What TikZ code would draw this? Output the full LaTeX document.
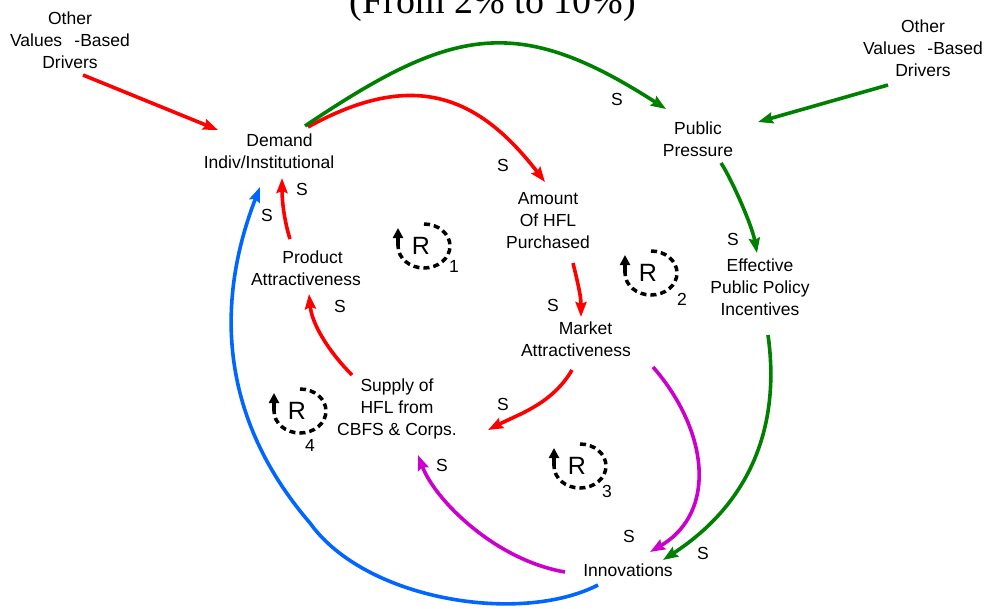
\documentclass[tikz,border=0pt]{standalone}
\usepackage{fontspec}
\setmainfont{Liberation Sans}
\newfontfamily\titlefont{Liberation Serif}
\usetikzlibrary{arrows.meta,calc}
\definecolor{cred}{RGB}{255,0,0}
\definecolor{cgreen}{RGB}{0,128,0}
\definecolor{cmag}{RGB}{204,0,204}
\definecolor{cblue}{RGB}{0,102,255}
\begin{document}
\begin{tikzpicture}[x=1pt,y=-1pt,
  lbl/.style={font=\fontsize{17.5}{22}\selectfont, align=center, inner sep=0pt},
  sl/.style={font=\fontsize{17.5}{22}\selectfont, inner sep=0pt},
  rl/.style={font=\fontsize{25}{25}\selectfont, inner sep=0pt},
  lnk/.style={line width=3.6pt, -{Stealth[length=15pt,width=11pt,inset=2pt]}},
  rlink/.style={lnk, draw=cred},
  glink/.style={lnk, draw=cgreen},
  mlink/.style={lnk, draw=cmag},
  blink/.style={lnk, draw=cblue},
  loopd/.style={line width=3.5pt, dash pattern=on 6pt off 4pt},
  looparr/.style={line width=3.5pt, -{Triangle[length=10pt,width=10pt]}}
]
\clip (0,0) rectangle (987,608);
\fill[white] (0,0) rectangle (987,608);

% title (cut off at top, as in the reference)
\node[font=\fontsize{38}{40}\selectfont\titlefont, anchor=base, inner sep=0pt] (title) at (493,13) {(From 2\% to 10\%)};

% variables
\node[lbl] (lod) at (70,40) {Other\\Values\hspace{0.7em}-Based\\Drivers};
\node[lbl] (rod) at (923,48) {Other\\Values\hspace{0.7em}-Based\\Drivers};
\node[lbl] (dem) at (269,151) {\hspace*{21pt}Demand\\Indiv/Institutional};
\node[lbl] (pp) at (698,139) {Public\\Pressure};
\node[lbl] (amt) at (548,221) {Amount\\Of HFL\\Purchased};
\node[lbl] (prod) at (306,268) {\hspace*{13pt}Product\\Attractiveness};
\node[lbl] (eff) at (760,287) {Effective\\Public Policy\\Incentives};
\node[lbl] (mkt) at (576,339) {\hspace*{19pt}Market\\Attractiveness};
\node[lbl] (sup) at (397,409) {Supply of\\HFL from\\CBFS \& Corps.};
\node[lbl] (inn) at (628,570) {Innovations};

% links
\draw[rlink] ([shift={(13,35)}]lod.center) -- ([shift={(-51,-21)}]dem.center);
\draw[rlink] ([shift={(39,-24)}]dem.center) .. controls (413,69) and (478,95) .. ([shift={(-3,-39)}]amt.center);
\draw[glink] ([shift={(36,-25)}]dem.center) .. controls (452,27) and (517,13) .. ([shift={(-32,-30)}]pp.center);
\draw[rlink] ([shift={(25,42)}]amt.center) .. controls (577,280) and (581,295) .. ([shift={(5,-22)}]mkt.center);
\draw[rlink] ([shift={(-4,31)}]mkt.center) .. controls (552,404) and (519,414) .. ([shift={(91,21)}]sup.center);
\draw[rlink] ([shift={(-45,-34)}]sup.center) .. controls (330,353) and (312,325) .. ([shift={(3,26)}]prod.center);
\draw[rlink] ([shift={(-16,-29)}]prod.center) .. controls (284,220) and (282,200) .. ([shift={(13,27)}]dem.center);
\draw[glink] ([shift={(-35,37)}]rod.center) -- ([shift={(60,-17)}]pp.center);
\draw[glink] ([shift={(23,24)}]pp.center) .. controls (731,178) and (752,225) .. ([shift={(-3,-34)}]eff.center);
\draw[glink] ([shift={(8,48)}]eff.center) .. controls (780,420) and (755,500) .. ([shift={(35,-10)}]inn.center);
\draw[mlink] ([shift={(77,28)}]mkt.center) .. controls (708,430) and (718,512) .. ([shift={(22,-18)}]inn.center);
\draw[mlink] ([shift={(-63,2)}]inn.center) .. controls (495,560) and (435,500) .. ([shift={(21,46)}]sup.center);
\coordinate (bmid) at (310,523);
\draw[blink] ([shift={(-30,15)}]inn.center) .. controls (520,625) and (365,600) .. (bmid) .. controls (212,409) and (220,290) .. ([shift={(-9,36)}]dem.center);

% polarity labels
\node[sl] (s1) at (617,99) {S};
\node[sl] (s2) at (503,165) {S};
\node[sl] (s3) at (302,189) {S};
\node[sl] (s4) at (267,215) {S};
\node[sl] (s5) at (340,306) {S};
\node[sl] (s6) at (733,239) {S};
\node[sl] (s7) at (553,305) {S};
\node[sl] (s8) at (503,404) {S};
\node[sl] (s9) at (442,465) {S};
\node[sl] (s10) at (629,536) {S};
\node[sl] (s11) at (703,553) {S};

% loop symbols
\foreach \cx/\cy/\n/\nx/\ny/\nm in {424/246/1/454/266/la, 651/273/2/682/299/lb, 580/466/3/607/491/lc, 300/411/4/310/445/ld}{
  \coordinate (\nm) at (\cx,\cy);
  \draw[loopd] ([shift={(0pt,22pt)}]\nm) arc[start angle=90, end angle=-180, x radius=26pt, y radius=22pt];
  \draw[looparr] ([shift={(-26pt,0pt)}]\nm) -- ++(0pt,18pt);
  \node[rl] (\nm R) at ([shift={(-3,0)}]\nm) {R};
  \node[sl] (\nm N) at (\nx,\ny) {\n};
}
\end{tikzpicture}
\end{document}
